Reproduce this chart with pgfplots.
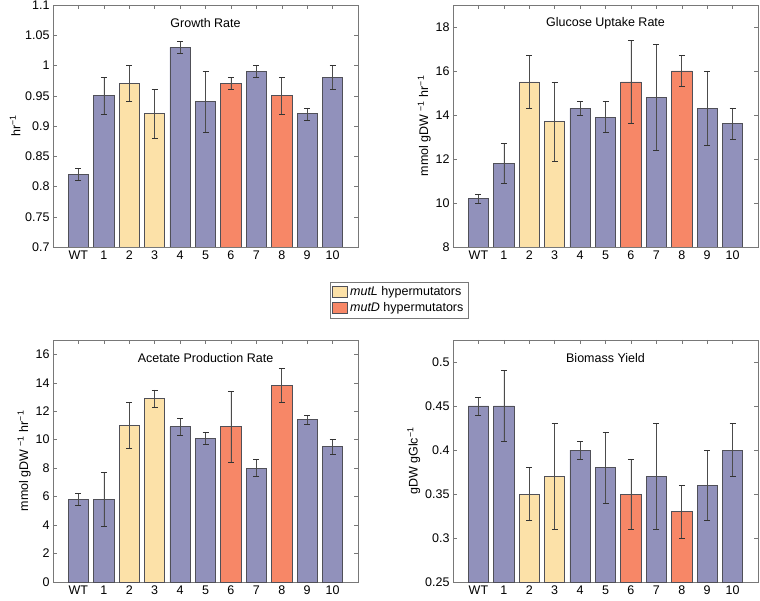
\documentclass[border=0pt]{standalone}
\usepackage{pgfplots}
\pgfplotsset{compat=1.18}
\usepackage{fontspec}
\setmainfont{Liberation Sans}
\definecolor{cblue}{RGB}{145,145,187}
\definecolor{cyel}{RGB}{252,225,168}
\definecolor{cred}{RGB}{247,135,103}
\definecolor{cedge}{RGB}{80,80,88}
\definecolor{caxis}{RGB}{120,120,120}
\pgfplotsset{
  panel/.style={
    scale only axis, width=305pt, height=242pt, anchor=south west,
    xmin=-1, xmax=11,
    xtick={0,...,10}, xticklabels={WT,1,2,3,4,5,6,7,8,9,10},
    tick align=inside, major tick length=4pt, tick pos=both,
    axis line style={caxis}, every tick/.style={caxis},
    /pgf/number format/assume math mode=true,
    /pgf/number format/fixed,
    tick label style={font=\fontsize{12.5}{14}\selectfont},
    label style={font=\fontsize{12.5}{14}\selectfont},
    title style={font=\fontsize{12.5}{14}\selectfont, at={(0.5,0.9)}, anchor=center},
    ylabel style={yshift=-2pt},
  },
  bars/.style={ybar, bar width=0.8, bar shift=0pt, fill=#1, draw=cedge, line width=0.8pt,
    error bars/y dir=both, error bars/y explicit,
    error bars/error bar style={line width=0.6pt, black!70},
    error bars/error mark options={rotate=90, mark size=3pt, line width=0.6pt, black!80}},
}
\newcommand{\inv}{\textsuperscript{−1}}
\begin{document}
\begin{tikzpicture}
\useasboundingbox (0,0) rectangle (760pt,600pt);
% Growth rate
\begin{axis}[panel, at={(53pt,353pt)}, ymin=0.7, ymax=1.1, ytick={0.7,0.75,...,1.1},
  yticklabels={0.7,0.75,0.8,0.85,0.9,0.95,1,1.05,1.1},
  title={Growth Rate}, ylabel={hr\inv},
  legend style={at={(1.134,-0.219)}, anchor=center, draw=caxis, font=\fontsize{12.5}{14}\selectfont,
    inner sep=2.5pt, row sep=1.5pt, cells={anchor=west}},
  legend cell align=left,
  legend image code/.code={\draw[#1, draw=cedge, line width=0.8pt] (0pt,-5.5pt) rectangle (15pt,6pt);}]
\addlegendimage{fill=cyel}
\addlegendentry{\textit{mutL} hypermutators}
\addlegendimage{fill=cred}
\addlegendentry{\textit{mutD} hypermutators}
\addplot[forget plot, bars=cblue] coordinates {(0,0.82) +- (0,0.01) (1,0.95) +- (0,0.03) (4,1.03) +- (0,0.01) (5,0.94) +- (0,0.05) (7,0.99) +- (0,0.01) (9,0.92) +- (0,0.01) (10,0.98) +- (0,0.02)};
\addplot[forget plot, bars=cyel] coordinates {(2,0.97) +- (0,0.03) (3,0.92) +- (0,0.04)};
\addplot[forget plot, bars=cred] coordinates {(6,0.97) +- (0,0.01) (8,0.95) +- (0,0.03)};
\end{axis}
% Glucose uptake
\begin{axis}[panel, at={(453pt,353pt)}, ymin=8, ymax=19, ytick={8,10,...,18},
  title={Glucose Uptake Rate}, ylabel={mmol gDW \inv\ hr\inv}]
\addplot[bars=cblue] coordinates {(0,10.2) +- (0,0.2) (1,11.8) +- (0,0.9) (4,14.3) +- (0,0.3) (5,13.9) +- (0,0.7) (7,14.8) +- (0,2.4) (9,14.3) +- (0,1.7) (10,13.6) +- (0,0.7)};
\addplot[bars=cyel] coordinates {(2,15.5) +- (0,1.2) (3,13.7) +- (0,1.8)};
\addplot[bars=cred] coordinates {(6,15.5) +- (0,1.9) (8,16.0) +- (0,0.7)};
\end{axis}
% Acetate
\begin{axis}[panel, at={(53pt,18pt)}, ymin=0, ymax=17, ytick={0,2,...,16},
  title={Acetate Production Rate}, ylabel={mmol gDW \inv\ hr\inv}]
\addplot[bars=cblue] coordinates {(0,5.8) +- (0,0.4) (1,5.8) +- (0,1.9) (4,10.9) +- (0,0.6) (5,10.1) +- (0,0.4) (7,8.0) +- (0,0.6) (9,11.4) +- (0,0.3) (10,9.5) +- (0,0.5)};
\addplot[bars=cyel] coordinates {(2,11.0) +- (0,1.6) (3,12.9) +- (0,0.6)};
\addplot[bars=cred] coordinates {(6,10.9) +- (0,2.5) (8,13.8) +- (0,1.2)};
\end{axis}
% Biomass yield
\begin{axis}[panel, at={(453pt,18pt)}, ymin=0.25, ymax=0.525, ytick={0.25,0.3,...,0.5},
  yticklabels={0.25,0.3,0.35,0.4,0.45,0.5},
  title={Biomass Yield}, ylabel={gDW gGlc\inv}]
\addplot[bars=cblue] coordinates {(0,0.45) +- (0,0.01) (1,0.45) +- (0,0.04) (4,0.40) +- (0,0.01) (5,0.38) +- (0,0.04) (7,0.37) +- (0,0.06) (9,0.36) +- (0,0.04) (10,0.40) +- (0,0.03)};
\addplot[bars=cyel] coordinates {(2,0.35) +- (0,0.03) (3,0.37) +- (0,0.06)};
\addplot[bars=cred] coordinates {(6,0.35) +- (0,0.04) (8,0.33) +- (0,0.03)};
\end{axis}
\end{tikzpicture}
\end{document}
